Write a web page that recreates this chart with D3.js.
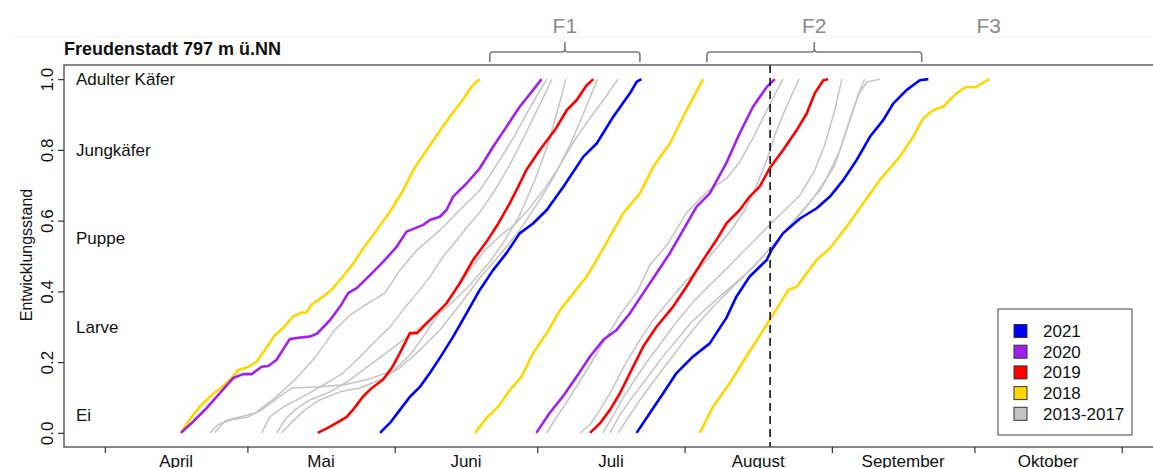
<!DOCTYPE html>
<html>
<head>
<meta charset="utf-8">
<script src="https://cdn.jsdelivr.net/npm/d3@7"></script>
<style>
  body { margin: 0; background: #fff; }
  svg { display: block; font-family: "Liberation Sans", Arial, sans-serif; }
</style>
</head>
<body>
<div id="chart"></div>
<script>
// x = day of year, y = development stage (0 = Ei, 1 = Adulter Käfer)
const monthStarts = [91, 121, 152, 182, 213, 244, 274, 305];
const monthNames = ['April', 'Mai', 'Juni', 'Juli', 'August', 'September', 'Oktober'];
const yTicks = [0, 0.2, 0.4, 0.6, 0.8, 1.0];
const stageNames = ['Adulter Käfer', 'Jungkäfer', 'Puppe', 'Larve', 'Ei'];
const stageLevels = [1.0, 0.8, 0.55, 0.3, 0.05];
const genLabels = ['F1', 'F2', 'F3'];
const genSpans = [[172, 203.6], [217.7, 262.9], [277, 277]];
const cutDay = 231;

const legendLabels = ['2021', '2020', '2019', '2018', '2013-2017'];
const legendColors = ['#0000ff', '#a020f0', '#ff0000', '#ffd700', '#c4c4c4'];

const y2018 = [
  [[107.0,0],[108.9,0.039],[111.0,0.074],[113.5,0.107],[115.6,0.129],[117.7,0.155],[119.1,0.178],[120.5,0.183],[121.5,0.189],[122.9,0.201],[124.7,0.234],[126.8,0.277],[128.5,0.296],[130.6,0.329],[132.4,0.340],[133.4,0.340],[134.5,0.362],[136.9,0.385],[138.7,0.404],[141.1,0.442],[143.3,0.479],[145.4,0.522],[148.2,0.573],[151.0,0.625],[153.8,0.686],[155.9,0.743],[157.3,0.771],[158.7,0.799],[160.9,0.842],[163.4,0.890],[166.3,0.941],[168.4,0.983],[169.9,1.0]],
  [[168.9,0],[171.3,0.042],[173.8,0.074],[176.2,0.121],[178.7,0.159],[181.1,0.225],[184.0,0.282],[186.8,0.347],[189.6,0.395],[192.4,0.442],[194.5,0.489],[197.3,0.555],[200.1,0.621],[203.6,0.677],[206.4,0.752],[209.9,0.818],[213.4,0.912],[216.9,1.0]],
  [[216.2,0],[219.0,0.074],[222.5,0.140],[226.0,0.216],[230.9,0.319],[233.1,0.366],[234.8,0.404],[236.6,0.413],[240.8,0.489],[243.6,0.522],[247.1,0.583],[250.6,0.649],[254.1,0.715],[258.3,0.781],[261.1,0.837],[263.2,0.889],[265.3,0.912],[267.4,0.922],[270.2,0.960],[272.3,0.978],[274.4,0.978],[277.1,1.0]]
];

const y2019 = [
  [[135.8,0],[137.9,0.014],[139.8,0.028],[141.9,0.045],[143.2,0.065],[145.3,0.102],[147.2,0.127],[149.5,0.150],[151.4,0.184],[153.1,0.226],[155.2,0.282],[156.7,0.282],[158.8,0.311],[160.9,0.339],[162.9,0.366],[165.7,0.423],[168.5,0.489],[171.3,0.540],[173.8,0.592],[176.2,0.649],[178.0,0.696],[179.7,0.743],[182.5,0.799],[185.7,0.856],[188.2,0.912],[190.3,0.941],[192.4,0.983],[193.8,1.0]],
  [[193.1,0],[195.2,0.027],[197.3,0.065],[199.4,0.112],[201.5,0.169],[204.3,0.244],[207.1,0.300],[210.6,0.357],[213.4,0.413],[216.9,0.489],[219.7,0.545],[221.8,0.592],[224.6,0.630],[226.7,0.668],[228.8,0.696],[230.9,0.748],[233.7,0.799],[236.6,0.856],[238.7,0.903],[240.4,0.960],[242.2,0.997],[243.2,1.0]]
];

const y2020 = [
  [[107.0,0],[109.6,0.032],[112.4,0.070],[115.2,0.112],[118.0,0.155],[120.1,0.166],[121.9,0.166],[124.0,0.187],[125.4,0.189],[127.1,0.206],[129.9,0.265],[131.7,0.269],[134.1,0.272],[135.6,0.280],[138.4,0.319],[140.5,0.357],[142.2,0.395],[144.0,0.409],[146.8,0.446],[149.6,0.484],[152.4,0.526],[154.5,0.569],[156.2,0.578],[158.0,0.588],[159.4,0.602],[161.5,0.611],[162.9,0.630],[164.3,0.668],[167.1,0.705],[169.9,0.748],[172.7,0.809],[175.5,0.865],[178.3,0.922],[181.1,0.969],[182.9,1.0]],
  [[181.8,0],[184.6,0.056],[187.4,0.103],[190.3,0.159],[193.1,0.216],[195.9,0.263],[198.7,0.291],[201.5,0.338],[204.3,0.395],[207.1,0.451],[209.9,0.508],[212.7,0.573],[215.5,0.639],[218.3,0.677],[221.8,0.763],[224.6,0.847],[227.4,0.922],[230.3,0.978],[232.0,1.0]]
];

const y2021 = [
  [[148.9,0],[151.0,0.028],[153.1,0.065],[155.2,0.102],[157.3,0.130],[159.4,0.169],[161.5,0.212],[164.3,0.272],[167.1,0.338],[169.9,0.404],[172.7,0.460],[175.5,0.508],[178.3,0.564],[181.1,0.592],[184.0,0.630],[187.5,0.696],[191.7,0.781],[194.5,0.818],[198.0,0.894],[201.5,0.960],[202.9,0.992],[203.9,1.0]],
  [[202.9,0],[205.7,0.056],[208.5,0.112],[211.3,0.169],[214.8,0.216],[218.3,0.253],[221.8,0.325],[223.9,0.385],[226.7,0.442],[230.3,0.489],[231.3,0.517],[233.7,0.564],[237.3,0.606],[240.8,0.635],[243.6,0.668],[246.4,0.715],[249.2,0.771],[252.0,0.837],[254.8,0.884],[256.9,0.931],[259.7,0.969],[262.5,0.997],[264.3,1.0]]
];

// 2013-2017, both generations
const yGrey = [
  [[114.1,0],[116.3,0.034],[119.4,0.045],[122.6,0.056],[126.8,0.099],[131.0,0.150],[135.2,0.212],[139.4,0.291],[142.6,0.333],[146.8,0.370],[149.9,0.395],[153.1,0.460],[156.7,0.517],[161.5,0.573],[165.7,0.630],[169.9,0.686],[174.1,0.771],[177.3,0.842],[180.4,0.918],[184.0,1.0]],
  [[124.0,0],[125.7,0.045],[128.5,0.073],[131.4,0.093],[134.1,0.113],[137.7,0.141],[141.1,0.169],[144.7,0.215],[148.2,0.263],[151.0,0.299],[153.7,0.347],[156.7,0.395],[159.4,0.441],[162.1,0.497],[165.1,0.545],[167.2,0.582],[169.9,0.624],[173.1,0.686],[176.2,0.757],[179.4,0.842],[182.5,0.927],[185.1,1.0]],
  [[127.2,0],[128.9,0.037],[131.0,0.065],[134.1,0.093],[138.4,0.116],[142.6,0.150],[146.8,0.192],[151.0,0.234],[155.2,0.277],[159.4,0.319],[163.6,0.362],[167.8,0.418],[172.0,0.483],[175.2,0.545],[178.3,0.616],[181.5,0.715],[184.2,0.814],[186.3,0.912],[188.0,1.0]],
  [[128.2,0],[130.4,0.031],[133.1,0.065],[136.2,0.093],[140.5,0.116],[144.7,0.127],[148.9,0.150],[153.1,0.184],[157.3,0.234],[161.5,0.291],[165.7,0.362],[169.9,0.438],[174.1,0.503],[178.3,0.573],[182.5,0.658],[185.7,0.729],[188.9,0.814],[192.0,0.912],[194.7,1.0]],
  [[113.1,0],[114.8,0.023],[117.7,0.037],[121.1,0.045],[124.0,0.065],[127.4,0.099],[130.4,0.127],[136.2,0.130],[141.5,0.136],[146.8,0.153],[152.0,0.178],[155.2,0.220],[158.3,0.277],[161.5,0.342],[164.7,0.404],[167.8,0.460],[171.0,0.517],[174.1,0.556],[177.3,0.590],[180.4,0.636],[183.6,0.692],[186.8,0.757],[189.9,0.828],[193.1,0.890],[196.2,0.946],[199.0,1.0]],
  [[184.0,0],[185.7,0.037],[187.8,0.079],[190.5,0.136],[193.1,0.192],[196.2,0.263],[199.4,0.333],[203.0,0.398],[205.7,0.475],[209.3,0.531],[213.5,0.624],[217.7,0.681],[221.9,0.720],[224.6,0.766],[227.4,0.833],[229.5,0.890],[231.6,0.946],[233.7,1.0]],
  [[191.0,0],[193.1,0.023],[195.2,0.065],[197.7,0.121],[200.4,0.192],[203.6,0.263],[206.7,0.325],[209.9,0.376],[213.1,0.427],[216.2,0.466],[219.4,0.517],[222.5,0.568],[225.7,0.630],[228.2,0.701],[230.3,0.771],[232.0,0.842],[234.1,0.912],[235.8,0.963],[237.1,1.0]],
  [[195.8,0],[197.7,0.042],[199.8,0.093],[202.5,0.150],[205.7,0.212],[208.8,0.268],[212.0,0.325],[215.2,0.376],[218.3,0.418],[221.5,0.460],[224.6,0.503],[227.8,0.545],[230.9,0.588],[234.1,0.630],[237.3,0.672],[240.4,0.743],[242.5,0.814],[244.6,0.912],[246.1,1.0]],
  [[197.3,0],[199.4,0.051],[201.9,0.099],[205.1,0.155],[208.2,0.212],[211.4,0.263],[214.5,0.314],[217.7,0.353],[220.8,0.390],[224.0,0.427],[227.2,0.466],[230.3,0.511],[233.5,0.559],[236.6,0.607],[239.8,0.658],[242.9,0.720],[245.7,0.799],[247.8,0.884],[249.5,0.955],[250.9,1.0]],
  [[199.0,0],[201.1,0.042],[203.6,0.093],[206.7,0.150],[209.9,0.206],[213.1,0.263],[216.2,0.314],[219.4,0.362],[222.5,0.404],[225.7,0.446],[228.8,0.489],[232.0,0.537],[235.2,0.588],[238.3,0.636],[241.5,0.686],[244.6,0.757],[246.7,0.842],[248.4,0.912],[249.9,0.963],[251.4,0.992],[254.1,1.0]]
];

const W = 1153, H = 468;
const box = { left: 64, top: 65, right: 1155, bottom: 447 };

const svg = d3.select('#chart').append('svg')
  .attr('width', W)
  .attr('height', H);

const x = d3.scaleLinear().domain([82.4, 312]).range([box.left, box.right]);
const y = d3.scaleLinear().domain([-0.04, 1.04]).range([box.bottom, box.top]);

// faint separator above the plot (from the pasted header)
svg.append('line')
  .attr('x1', 12).attr('x2', W).attr('y1', 37).attr('y2', 37)
  .attr('stroke', '#f1f1f1');

// generation brackets
const brackets = svg.append('g')
  .attr('fill', 'none')
  .attr('stroke', '#7a7a7a')
  .attr('stroke-width', 1.6);

genSpans.forEach((s, i) => {
  const xa = x(s[0]), xb = x(s[1]), xm = (xa + xb) / 2;
  if (xb - xa > 1) {
    brackets.append('path')
      .attr('d', `M${xa},62 L${xa},55 Q${xa},52 ${xa + 3},52 L${xm - 3},52 Q${xm},52 ${xm},49 L${xm},42
        M${xm},49 Q${xm},52 ${xm + 3},52 L${xb - 3},52 Q${xb},52 ${xb},55 L${xb},62`);
  }
  svg.append('text')
    .attr('x', xm)
    .attr('y', 33)
    .attr('text-anchor', 'middle')
    .attr('font-size', 21)
    .attr('fill', '#8a8a8a')
    .text(genLabels[i]);
});

// title
svg.append('text')
  .attr('x', box.left)
  .attr('y', 55)
  .attr('font-size', 18)
  .attr('font-weight', 'bold')
  .attr('fill', '#111')
  .text('Freudenstadt 797 m ü.NN');

// stage labels inside plot
svg.append('g')
  .selectAll('text')
  .data(stageNames)
  .join('text')
  .attr('x', 76)
  .attr('y', (d, i) => y(stageLevels[i]))
  .attr('dy', '0.35em')
  .attr('font-size', 17)
  .attr('fill', '#111')
  .text(d => d);

const line = d3.line()
  .x(d => x(d[0]))
  .y(d => y(d[1]));

const plot = svg.append('g').attr('fill', 'none').attr('stroke-linejoin', 'round');

plot.selectAll('path.grey')
  .data(yGrey)
  .join('path')
  .attr('class', 'grey')
  .attr('d', line)
  .attr('stroke', legendColors[4])
  .attr('stroke-width', 1.5);

[[y2018, legendColors[3]], [y2019, legendColors[2]], [y2020, legendColors[1]], [y2021, legendColors[0]]]
  .forEach(([series, color]) => {
    plot.append('g')
      .selectAll('path')
      .data(series)
      .join('path')
      .attr('d', line)
      .attr('stroke', color)
      .attr('stroke-width', 2.6);
  });

// dashed marker for the current date
svg.append('line')
  .attr('x1', x(cutDay)).attr('x2', x(cutDay))
  .attr('y1', box.top).attr('y2', box.bottom)
  .attr('stroke', '#111')
  .attr('stroke-width', 1.6)
  .attr('stroke-dasharray', '8,5');

// box
svg.append('rect')
  .attr('x', box.left).attr('y', box.top)
  .attr('width', box.right - box.left).attr('height', box.bottom - box.top)
  .attr('fill', 'none')
  .attr('stroke', '#555')
  .attr('stroke-width', 1.4);

// x axis: ticks at month starts, names centred between them
const xAxis = svg.append('g')
  .attr('transform', `translate(0,${box.bottom})`)
  .call(d3.axisBottom(x).tickValues(monthStarts).tickFormat('').tickSize(6));
xAxis.select('.domain').remove();
xAxis.selectAll('line').attr('stroke', '#333').attr('stroke-width', 1.2);

svg.append('g')
  .selectAll('text')
  .data(monthNames)
  .join('text')
  .attr('x', (d, i) => x((monthStarts[i] + monthStarts[i + 1]) / 2))
  .attr('y', 467)
  .attr('text-anchor', 'middle')
  .attr('font-size', 17)
  .attr('fill', '#111')
  .text(d => d);

// y axis
const yAxis = svg.append('g')
  .attr('transform', `translate(${box.left},0)`)
  .call(d3.axisLeft(y).tickValues(yTicks).tickFormat(d3.format('.1f')).tickSize(6));
yAxis.select('.domain').remove();
yAxis.selectAll('line').attr('stroke', '#333').attr('stroke-width', 1.2);
yAxis.selectAll('text')
  .attr('font-size', 17)
  .attr('font-family', '"Liberation Sans", Arial, sans-serif')
  .attr('fill', '#111')
  .attr('x', null).attr('dy', null)
  .attr('text-anchor', 'middle')
  .attr('transform', 'translate(-11,0) rotate(-90)');

svg.append('text')
  .attr('transform', 'translate(32,255) rotate(-90)')
  .attr('text-anchor', 'middle')
  .attr('font-size', 16)
  .attr('fill', '#111')
  .text('Entwicklungsstand');

// legend
const legend = svg.append('g').attr('transform', 'translate(998,309)');
legend.append('rect')
  .attr('width', 134).attr('height', 126)
  .attr('fill', '#fff')
  .attr('stroke', '#444');
const rows = legend.selectAll('g.row')
  .data(legendLabels)
  .join('g')
  .attr('class', 'row')
  .attr('transform', (d, i) => `translate(0,${22 + i * 20.7})`);
rows.append('rect')
  .attr('x', 16).attr('y', -6.5)
  .attr('width', 13).attr('height', 13)
  .attr('fill', (d, i) => legendColors[i])
  .attr('stroke', '#333');
rows.append('text')
  .attr('x', 45)
  .attr('dy', '0.35em')
  .attr('font-size', 17)
  .attr('fill', '#111')
  .text(d => d);
</script>
</body>
</html>
